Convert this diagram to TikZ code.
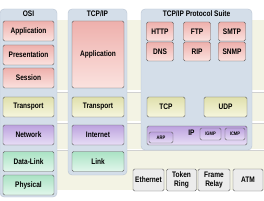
\documentclass[tikz,border=0pt]{standalone}
\usepackage{fontspec}
\setmainfont{Liberation Sans}[FakeStretch=0.82]
\definecolor{bandcol}{RGB}{243,243,228}
\definecolor{panelcol}{RGB}{212,222,233}
\definecolor{panelline}{RGB}{185,196,210}
\definecolor{appcol}{RGB}{238,176,172}
\definecolor{applite}{RGB}{251,226,223}
\definecolor{trancol}{RGB}{224,224,172}
\definecolor{tranlite}{RGB}{246,246,222}
\definecolor{netcol}{RGB}{188,162,222}
\definecolor{netlite}{RGB}{232,222,246}
\definecolor{linkcol}{RGB}{170,226,196}
\definecolor{linklite}{RGB}{226,247,236}
\definecolor{hwcol}{RGB}{236,236,236}

\tikzset{
  panel/.style={draw=panelline, fill=panelcol, rounded corners=4pt},
  layer/.style={draw=black!62, rounded corners=1.5pt, inner sep=0pt, align=center},
  applayer/.style={layer, top color=appcol, bottom color=applite},
  tranlayer/.style={layer, top color=trancol, bottom color=tranlite},
  netlayer/.style={layer, top color=netcol, bottom color=netlite},
  linklayer/.style={layer, top color=linkcol, bottom color=linklite},
  hwbox/.style={layer, fill=hwcol, minimum width=30pt, minimum height=22pt},
  tiny/.style={font=\bfseries\fontsize{5}{5}\selectfont}
}

\begin{document}
\begin{tikzpicture}[x=1pt, y=-1pt, every node/.style={font=\bfseries\fontsize{8}{8.5}\selectfont}]
  \useasboundingbox (0,0) rectangle (264,200);
  % background bands
  \fill[bandcol] (0,20) rectangle (264,190);
  \foreach \yy in {91,122,149.5} {
    \draw[black!18, line width=0.5pt] (0,\yy+0.8) -- (264,\yy+0.8);
    \draw[white, line width=1.3pt] (0,\yy) -- (264,\yy);
  }
  % column panels
  \draw[panel] (0,9) rectangle (57,197);
  \draw[panel] (68,9) rectangle (127,175);
  \draw[panel] (141,9) rectangle (252,150);
  \node (osi) at (28.5,14) {OSI};
  \node (tcpip) at (97.5,14) {TCP/IP};
  \node (suite) at (196.5,14) {TCP/IP Protocol Suite};

  % OSI model
  \begin{scope}[every node/.append style={minimum width=51pt, minimum height=20pt}]
    \node[applayer] (osiapp) at (28.5,31) {Application};
    \node[applayer] (osipres) at (28.5,55) {Presentation};
    \node[applayer] (osisess) at (28.5,78) {Session};
    \node[tranlayer] (ositran) at (28.5,107) {Transport};
    \node[netlayer] (osinet) at (28.5,135) {Network};
    \node[linklayer] (osidata) at (28.5,161.5) {Data-Link};
    \node[linklayer] (osiphys) at (28.5,185) {Physical};
  \end{scope}

  % TCP/IP model
  \begin{scope}[every node/.append style={minimum width=52pt, minimum height=20pt}]
    \node[applayer, minimum height=67pt] (tcpapp) at (98,54.5) {Application};
    \node[tranlayer] (tcptran) at (98,107) {Transport};
    \node[netlayer] (tcpnet) at (98,135) {Internet};
    \node[linklayer] (tcplink) at (98,161.5) {Link};
  \end{scope}

  % protocol suite
  \begin{scope}[every node/.append style={minimum width=27pt, minimum height=19pt}]
    \node[applayer] (http) at (160,31.5) {HTTP};
    \node[applayer] (ftp) at (197,31.5) {FTP};
    \node[applayer] (smtp) at (232,31.5) {SMTP};
    \node[applayer] (dns) at (160,51.5) {DNS};
    \node[applayer] (rip) at (197,51.5) {RIP};
    \node[applayer] (snmp) at (232,51.5) {SNMP};
  \end{scope}
  \node[tranlayer, minimum width=38pt, minimum height=20pt] (tcp) at (166,107) {TCP};
  \node[tranlayer, minimum width=43pt, minimum height=20pt] (udp) at (225.5,107) {UDP};
  \node[netlayer, minimum width=100pt, minimum height=19pt] (ip) at (197,135.5) {};
  \node (iplabel) at (191.5,133) {IP};
  \node[netlayer, tiny, minimum width=24pt, minimum height=11pt] (arp) at (161,137.5) {ARP};
  \node[netlayer, tiny, minimum width=21pt, minimum height=12pt] (igmp) at (210.5,134) {IGMP};
  \node[netlayer, tiny, minimum width=20pt, minimum height=12pt] (icmp) at (235,134) {ICMP};

  % network hardware
  \node[hwbox, minimum width=31pt] (ether) at (148.5,180) {Ethernet};
  \node[hwbox] (token) at (181.5,180) {Token\\Ring};
  \node[hwbox, minimum width=32pt] (frame) at (214,180) {Frame\\Relay};
  \node[hwbox] (atm) at (248,180) {ATM};
\end{tikzpicture}
\end{document}
